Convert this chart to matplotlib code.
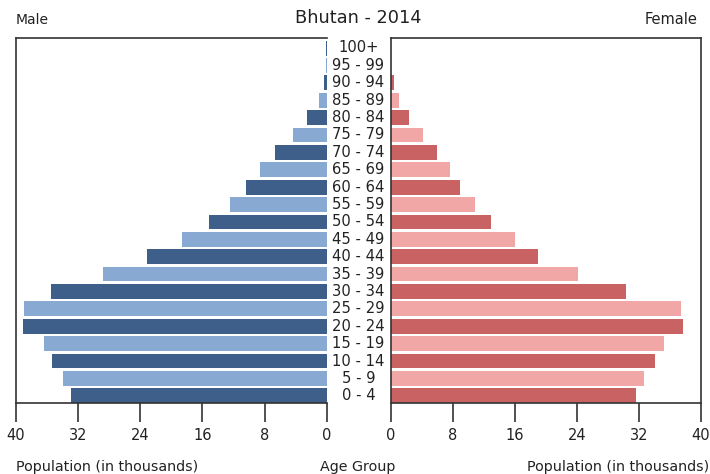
import matplotlib
matplotlib.use("Agg")
import matplotlib.pyplot as plt

age_groups = ["0 - 4", "5 - 9", "10 - 14", "15 - 19", "20 - 24", "25 - 29", "30 - 34",
              "35 - 39", "40 - 44", "45 - 49", "50 - 54", "55 - 59", "60 - 64", "65 - 69",
              "70 - 74", "75 - 79", "80 - 84", "85 - 89", "90 - 94", "95 - 99", "100+"]
male = [32.9, 34.0, 35.4, 36.4, 39.1, 39.0, 35.5, 28.8, 23.1, 18.6, 15.1, 12.5,
        10.4, 8.6, 6.7, 4.4, 2.5, 1.0, 0.3, 0.05, 0.1]
female = [31.6, 32.7, 34.1, 35.2, 37.7, 37.4, 30.4, 24.2, 19.0, 16.0, 13.0, 10.9,
          9.0, 7.65, 6.0, 4.2, 2.4, 1.1, 0.4, 0.05, 0.1]
x_ticks = [0, 8, 16, 24, 32, 40]

male_colors = ["#3e5f8a", "#88a9d2"]
female_colors = ["#c96363", "#f2a7a7"]

fig = plt.figure(figsize=(7.1, 4.74), dpi=100)
axL = fig.add_axes([16/710, 1-403/474, (326.7-16)/710, (403-37.7)/474])
axR = fig.add_axes([390.7/710, 1-403/474, (700.7-390.7)/710, (403-37.7)/474])

ypos = list(range(len(age_groups)))
mc = [male_colors[i % 2] for i in ypos]
fc = [female_colors[i % 2] for i in ypos]
axL.barh(ypos, male, height=0.85, color=mc, edgecolor="none")
axR.barh(ypos, female, height=0.85, color=fc, edgecolor="none")

for ax in (axL, axR):
    ax.set_ylim(-0.42, 20.6)
    ax.set_xlim(0, 40)
    ax.set_yticks([])
    ax.set_xticks(x_ticks)
    ax.tick_params(axis="x", direction="out", length=14, width=1.2, labelsize=10.5,
                   color="#333333", labelcolor="#222222", pad=4)
    for s in ax.spines.values():
        s.set_color("#333333")
        s.set_linewidth(1.2)
axL.invert_xaxis()
axL.spines["right"].set_visible(False)

for i, lab in enumerate(age_groups):
    fig.text(358.5/710, (474-(395.8 - i*17.39))/474, lab, ha="center", va="center",
             fontsize=10.6, color="#222222")

fig.text(358/710, 1-18/474, "Bhutan - 2014", ha="center", va="center", fontsize=12.8, color="#222222")
fig.text(16/710, 1-20/474, "Male", ha="left", va="center", fontsize=10, color="#222222")
fig.text(698/710, 1-20/474, "Female", ha="right", va="center", fontsize=10.5, color="#222222")
fig.text(16/710, 1-467/474, "Population (in thousands)", ha="left", va="center", fontsize=10.3, color="#222222")
fig.text(358/710, 1-467/474, "Age Group", ha="center", va="center", fontsize=10.3, color="#222222")
fig.text(709/710, 1-467/474, "Population (in thousands)", ha="right", va="center", fontsize=10.3, color="#222222")

fig.savefig("out.png", dpi=100)
